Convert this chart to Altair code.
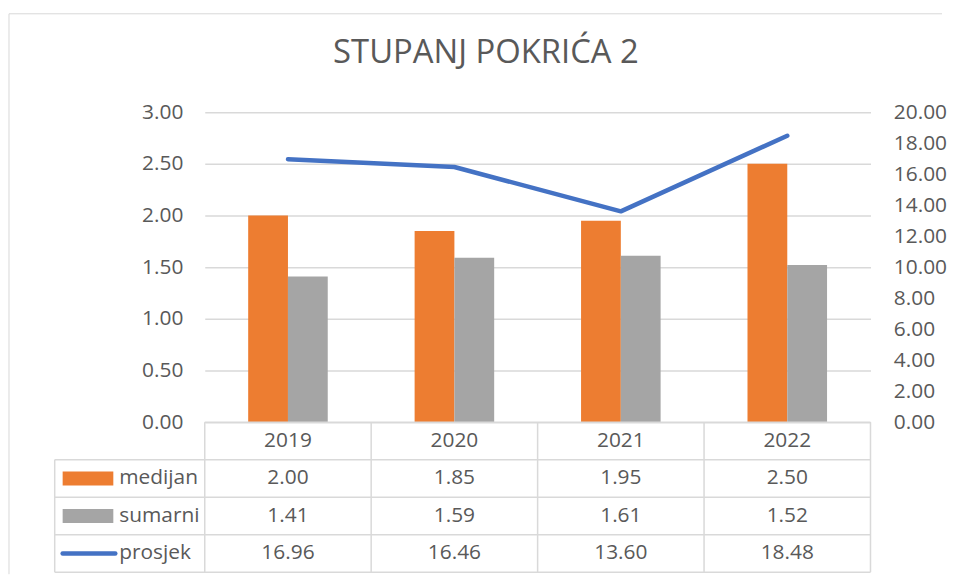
import altair as alt
import pandas as pd

years = ["2019", "2020", "2021", "2022"]
medijan = [2.00, 1.85, 1.95, 2.50]
sumarni = [1.41, 1.59, 1.61, 1.52]
prosjek = [16.96, 16.46, 13.60, 18.48]
series = ["medijan", "sumarni", "prosjek"]
title_text = "STUPANJ POKRIĆA 2"

FONT = "Open Sans"
TXT = "#595959"
GRID = "#d9d9d9"
ORANGE = "#ED7D31"
GRAY = "#A5A5A5"
BLUE = "#4472C4"

W = 670
H = 312
TH = 151

bars_df = pd.DataFrame(
    [{"year": y, "series": "medijan", "value": v} for y, v in zip(years, medijan)]
    + [{"year": y, "series": "sumarni", "value": v} for y, v in zip(years, sumarni)]
)
line_df = pd.DataFrame({"year": years, "prosjek": prosjek})

color_scale = alt.Scale(domain=["medijan", "sumarni"], range=[ORANGE, GRAY])
x_main = alt.X("year:N", sort=years, axis=None,
               scale=alt.Scale(paddingInner=0.522, paddingOuter=0.261))

bars = alt.Chart(bars_df).mark_bar().encode(
    x=x_main,
    xOffset=alt.XOffset("series:N", sort=["medijan", "sumarni"],
                        scale=alt.Scale(paddingInner=0, paddingOuter=0)),
    y=alt.Y("value:Q", scale=alt.Scale(domain=[0, 3], nice=False),
            axis=alt.Axis(values=[0, 0.5, 1, 1.5, 2, 2.5, 3], format=".2f",
                          title=None, domain=False, ticks=False, grid=True,
                          gridColor=GRID, gridWidth=1.5, labelFont=FONT,
                          labelFontSize=21, labelColor=TXT, labelPadding=22)),
    color=alt.Color("series:N", scale=color_scale, legend=None),
)

line = alt.Chart(line_df).mark_line(color=BLUE, strokeWidth=4.5, strokeCap="round",
                                     strokeJoin="round").encode(
    x=x_main,
    y=alt.Y("prosjek:Q", scale=alt.Scale(domain=[0, 20], nice=False),
            axis=alt.Axis(values=list(range(0, 21, 2)), format=".2f", orient="right",
                          title=None, domain=False, ticks=False, grid=False,
                          labelFont=FONT, labelFontSize=21, labelColor=TXT,
                          labelPadding=23)),
)

main = alt.layer(bars, line).resolve_scale(y="independent").properties(
    width=W, height=H,
    title=alt.TitleParams(title_text, font=FONT, fontSize=33, fontWeight="normal",
                          color=TXT, anchor="middle", frame="group", dx=-52,
                          offset=-2, baseline="bottom"),
)

# ---- data table below the plot ----
rows = ["godina"] + series
cell_rows = [{"year": y, "row": "godina", "label": y} for y in years]
for name, vals in zip(series, [medijan, sumarni, prosjek]):
    cell_rows += [{"year": y, "row": name, "label": f"{v:.2f}"} for y, v in zip(years, vals)]
cells_df = pd.DataFrame(cell_rows)

x_tab = alt.X("year:N", sort=years, axis=None,
              scale=alt.Scale(paddingInner=0, paddingOuter=0))
y_tab = alt.Y("row:N", sort=rows, axis=None,
              scale=alt.Scale(domain=rows, paddingInner=0, paddingOuter=0))

cell_text = alt.Chart(cells_df).mark_text(font=FONT, fontSize=21, color=TXT).encode(
    x=x_tab, y=y_tab, text="label:N")

one_df = pd.DataFrame({"k": [0]})
# outer chart frame (top and left edges), placed relative to the table panel
frame_top = alt.Chart(one_df).mark_rule(color=GRID, strokeWidth=1).encode(
    x=alt.value(-197), x2=alt.value(742), y=alt.value(-411))
frame_left = alt.Chart(one_df).mark_rule(color=GRID, strokeWidth=1).encode(
    x=alt.value(-197), y=alt.value(-411), y2=alt.value(TH + 2))

years_df = pd.DataFrame({"year": years})
vlines = alt.Chart(years_df).mark_rule(color=GRID, strokeWidth=1.5).encode(
    x=alt.X("year:N", sort=years, axis=None, bandPosition=0,
            scale=alt.Scale(paddingInner=0, paddingOuter=0)),
    y=alt.value(0), y2=alt.value(TH))
right_line = alt.Chart(one_df).mark_rule(color=GRID, strokeWidth=1.5).encode(
    x=alt.value(W), y=alt.value(0), y2=alt.value(TH))
top_line = alt.Chart(one_df).mark_rule(color=GRID, strokeWidth=1.5).encode(
    x=alt.value(0), x2=alt.value(W), y=alt.value(0))

series_df = pd.DataFrame({"row": series})
hlines = alt.Chart(series_df).mark_rule(color=GRID, strokeWidth=1.5).encode(
    x=alt.value(-151), x2=alt.value(W),
    y=alt.Y("row:N", sort=rows, axis=None, bandPosition=0,
            scale=alt.Scale(domain=rows, paddingInner=0, paddingOuter=0)))
bottom_df = pd.DataFrame({"row": [series[-1]]})
bottom_line = alt.Chart(bottom_df).mark_rule(color=GRID, strokeWidth=1.5).encode(
    x=alt.value(-151), x2=alt.value(W),
    y=alt.Y("row:N", sort=rows, axis=None, bandPosition=1,
            scale=alt.Scale(domain=rows, paddingInner=0, paddingOuter=0)))
leg_left = alt.Chart(one_df).mark_rule(color=GRID, strokeWidth=1.5).encode(
    x=alt.value(-151), y=alt.value(TH / 4), y2=alt.value(TH))

swatch_df = pd.DataFrame({"row": ["medijan", "sumarni"]})
swatches = alt.Chart(swatch_df).mark_bar(height=14).encode(
    x=alt.value(-143), x2=alt.value(-92), y=y_tab,
    color=alt.Color("row:N", scale=color_scale, legend=None))
line_sw_df = pd.DataFrame({"row": ["prosjek"]})
line_swatch = alt.Chart(line_sw_df).mark_rule(color=BLUE, strokeWidth=4.5,
                                              strokeCap="round").encode(
    x=alt.value(-143), x2=alt.value(-90),
    y=alt.Y("row:N", sort=rows, axis=None, bandPosition=0.5,
            scale=alt.Scale(domain=rows, paddingInner=0, paddingOuter=0)))
leg_text = alt.Chart(series_df).mark_text(font=FONT, fontSize=21, color=TXT,
                                          align="left").encode(
    x=alt.value(-86), y=y_tab, text="row:N")

table = alt.layer(frame_top, frame_left, top_line, vlines, right_line, hlines,
                  bottom_line, leg_left, swatches, line_swatch, leg_text,
                  cell_text).properties(width=W, height=TH)

chart = alt.vconcat(main, table, spacing=0, bounds="flush").resolve_scale(
    x="independent", color="independent"
).properties(
    padding={"left": 0, "top": 3, "right": 0, "bottom": 0},
    background="white",
).configure_view(stroke=None)

chart.save("out.html", embed_options={"renderer": "svg", "actions": False})
